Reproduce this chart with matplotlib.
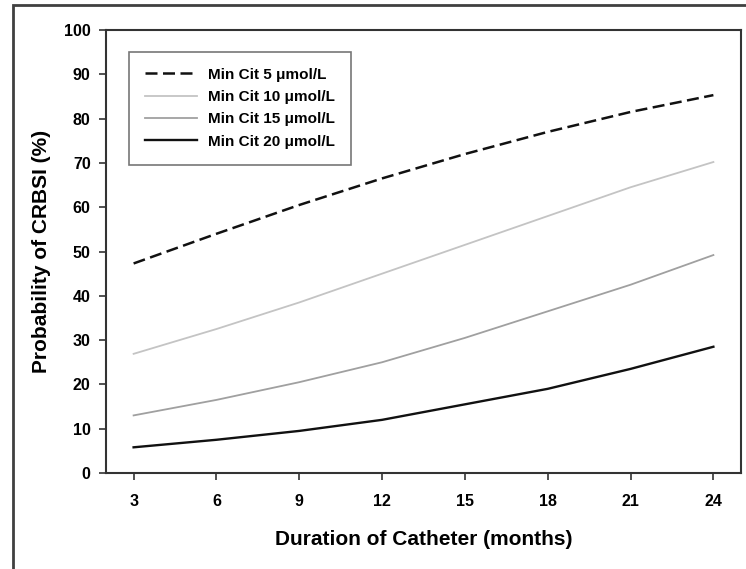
import matplotlib.pyplot as plt
from matplotlib.patches import Rectangle

plt.rcParams['font.family'] = ['Liberation Sans', 'DejaVu Sans']
plt.rcParams['font.weight'] = 'bold'

# Data (probability of CRBSI, %)
months = [3, 6, 9, 12, 15, 18, 21, 24]
cit_5 = [47.3, 54.0, 60.5, 66.5, 72.0, 77.0, 81.5, 85.3]
cit_10 = [26.9, 32.5, 38.5, 45.0, 51.5, 58.0, 64.5, 70.2]
cit_15 = [13.0, 16.5, 20.5, 25.0, 30.5, 36.5, 42.5, 49.2]
cit_20 = [5.8, 7.5, 9.5, 12.0, 15.5, 19.0, 23.5, 28.5]

labels = ['Min Cit 5 \u03bcmol/L', 'Min Cit 10 \u03bcmol/L',
          'Min Cit 15 \u03bcmol/L', 'Min Cit 20 \u03bcmol/L']
series = [cit_5, cit_10, cit_15, cit_20]
colors = ['#111111', '#c4c4c4', '#a0a0a0', '#111111']
styles = [(0, (4.8, 2.2)), '-', '-', '-']
widths = [1.8, 1.3, 1.3, 1.7]

fig = plt.figure(figsize=(7.46, 5.69), dpi=100)
ax = fig.add_axes([106 / 746, 1 - 473 / 569, 635 / 746, 443 / 569])

for y, c, ls, lw, lab in zip(series, colors, styles, widths, labels):
    ax.plot(months, y, color=c, linestyle=ls, linewidth=lw, label=lab)

ax.set_xlim(2, 25)
ax.set_ylim(0, 100)
ax.set_xticks(months)
ax.set_yticks(range(0, 101, 10))
ax.tick_params(direction='out', length=5, width=1.2, color='#333333',
               labelsize=11.5)
ax.tick_params(axis='x', pad=10)
ax.tick_params(axis='y', pad=6)
for s in ax.spines.values():
    s.set_color('#333333')
    s.set_linewidth(1.5)

ax.set_xlabel('Duration of Catheter (months)', fontsize=15, fontweight='bold',
              labelpad=15)
ax.set_ylabel('Probability of CRBSI (%)', fontsize=15, fontweight='bold',
              labelpad=9)

leg = ax.legend(loc='upper left', bbox_to_anchor=(23 / 635, 1 - 21.5 / 443),
                fontsize=11, frameon=True, fancybox=False, borderpad=1.05,
                handlelength=3.4, handletextpad=0.7, labelspacing=0.55,
                borderaxespad=0)
leg.get_frame().set_edgecolor('#555555')
leg.get_frame().set_linewidth(1.2)

# outer frame around the whole figure
fig.patches.append(Rectangle((13 / 746, -0.05), 1.0, 1 - 5 / 569 + 0.05,
                             transform=fig.transFigure, fill=False,
                             edgecolor='#404040', linewidth=2))

fig.savefig('out.png', dpi=100)
